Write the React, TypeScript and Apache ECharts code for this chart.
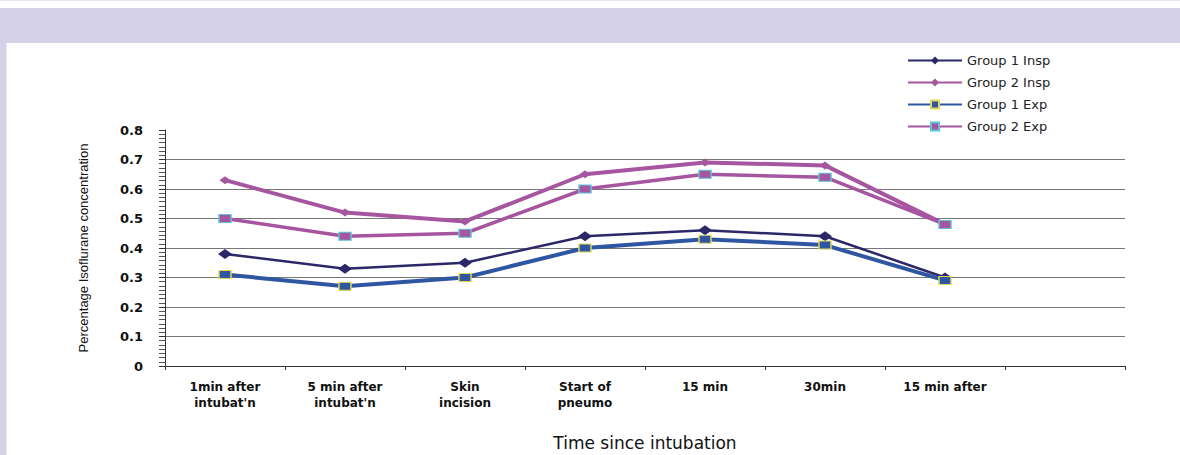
import React, { useEffect, useRef } from "react";
import * as echarts from "echarts";

const categories = [
  "1min after\nintubat'n",
  "5 min after\nintubat'n",
  "Skin\nincision",
  "Start of\npneumo",
  "15 min",
  "30min",
  "15 min after",
  "",
];
const yTicks = [0, 0.1, 0.2, 0.3, 0.4, 0.5, 0.6, 0.7, 0.8];
const group1Insp = [0.38, 0.33, 0.35, 0.44, 0.46, 0.44, 0.3];
const group2Insp = [0.63, 0.52, 0.49, 0.65, 0.69, 0.68, 0.48];
const group1Exp = [0.31, 0.27, 0.3, 0.4, 0.43, 0.41, 0.29];
const group2Exp = [0.5, 0.44, 0.45, 0.6, 0.65, 0.64, 0.48];

const NAVY = "#2c2868";
const MAGENTA = "#a6559f";
const BLUE = "#2f56a1";
const LAV = "#d4d1e7";

export default function App() {
  const ref = useRef<HTMLDivElement>(null);
  useEffect(() => {
    if (!ref.current) return;
    const chart = echarts.init(ref.current, null, { renderer: "svg" });
    const baseFont = "DejaVu Sans, Arial, sans-serif";
    chart.setOption({
      animation: false,
      backgroundColor: "#ffffff",
      graphic: [
        { type: "rect", shape: { x: 0, y: 0, width: 1180, height: 1 }, style: { fill: "#e6e4f2" } },
        { type: "rect", shape: { x: 0, y: 8, width: 1180, height: 35 }, style: { fill: LAV } },
        { type: "rect", shape: { x: 0, y: 43, width: 6, height: 412 }, style: { fill: LAV } },
        { type: "rect", shape: { x: 6, y: 43, width: 1, height: 412 }, style: { fill: "#e8e6f3" } },
      ],
      grid: {
        left: 165,
        right: 55,
        top: 130,
        bottom: 89,
        containLabel: false,
        outerBoundsMode: "none",
      },
      legend: {
        orient: "vertical",
        left: 907,
        top: 54,
        padding: 0,
        itemWidth: 54,
        itemHeight: 10,
        itemGap: 9,
        textStyle: { fontFamily: baseFont, fontSize: 13, color: "#222" },
        data: ["Group 1 Insp", "Group 2 Insp", "Group 1 Exp", "Group 2 Exp"],
      },
      xAxis: {
        type: "category",
        data: categories,
        boundaryGap: true,
        name: "Time since intubation",
        nameLocation: "middle",
        nameGap: 68,
        nameTextStyle: { fontFamily: baseFont, fontSize: 17, color: "#111" },
        axisLine: { lineStyle: { color: "#333", width: 1 } },
        axisTick: { show: true, length: 4, lineStyle: { color: "#333" } },
        axisLabel: {
          interval: 0,
          margin: 13,
          fontFamily: baseFont,
          fontWeight: "bold",
          fontSize: 12,
          lineHeight: 16,
          color: "#111",
        },
        splitLine: { show: false },
      },
      yAxis: {
        type: "value",
        min: yTicks[0],
        max: yTicks[yTicks.length - 1],
        interval: 0.1,
        name: "Percentage Isoflurane concentration",
        nameLocation: "middle",
        nameRotate: 90,
        nameGap: 75,
        nameTextStyle: {
          fontFamily: "Liberation Sans Narrow, Arial Narrow, sans-serif",
          fontSize: 13,
          color: "#111",
        },
        axisLine: { show: true, lineStyle: { color: "#333", width: 1 } },
        axisTick: { show: true, length: 6, lineStyle: { color: "#333" } },
        minorTick: { show: true, splitNumber: 7, length: 6, lineStyle: { color: "#555" } },
        axisLabel: {
          margin: 22,
          fontFamily: baseFont,
          fontWeight: "bold",
          fontSize: 13,
          color: "#111",
          formatter: (v: number) => (v === 0 ? "0" : v.toFixed(1)),
        },
        splitLine: { show: true, showMinLine: false, showMaxLine: false, lineStyle: { color: "#777", width: 1 } },
      },
      series: [
        {
          name: "Group 1 Insp",
          type: "line",
          data: group1Insp,
          symbol: "diamond",
          symbolSize: [14, 10],
          lineStyle: { color: NAVY, width: 2.5 },
          itemStyle: { color: NAVY },
          z: 2,
        },
        {
          name: "Group 2 Insp",
          type: "line",
          data: group2Insp,
          symbol: "diamond",
          symbolSize: [11, 8],
          lineStyle: { color: MAGENTA, width: 4 },
          itemStyle: { color: MAGENTA },
          z: 2,
        },
        {
          name: "Group 1 Exp",
          type: "line",
          data: group1Exp,
          symbol: "rect",
          symbolSize: [12, 8],
          lineStyle: { color: BLUE, width: 4 },
          itemStyle: { color: BLUE, borderColor: "#e2d95c", borderWidth: 1.2 },
          z: 3,
        },
        {
          name: "Group 2 Exp",
          type: "line",
          data: group2Exp,
          symbol: "rect",
          symbolSize: [12, 8],
          lineStyle: { color: MAGENTA, width: 3.5 },
          itemStyle: { color: MAGENTA, borderColor: "#5cc4d8", borderWidth: 1.2 },
          z: 3,
        },
      ],
    });
    return () => chart.dispose();
  }, []);
  return (
    <div
      ref={ref}
      style={{ position: "fixed", left: 0, top: 0, width: 1180, height: 455 }}
    />
  );
}
